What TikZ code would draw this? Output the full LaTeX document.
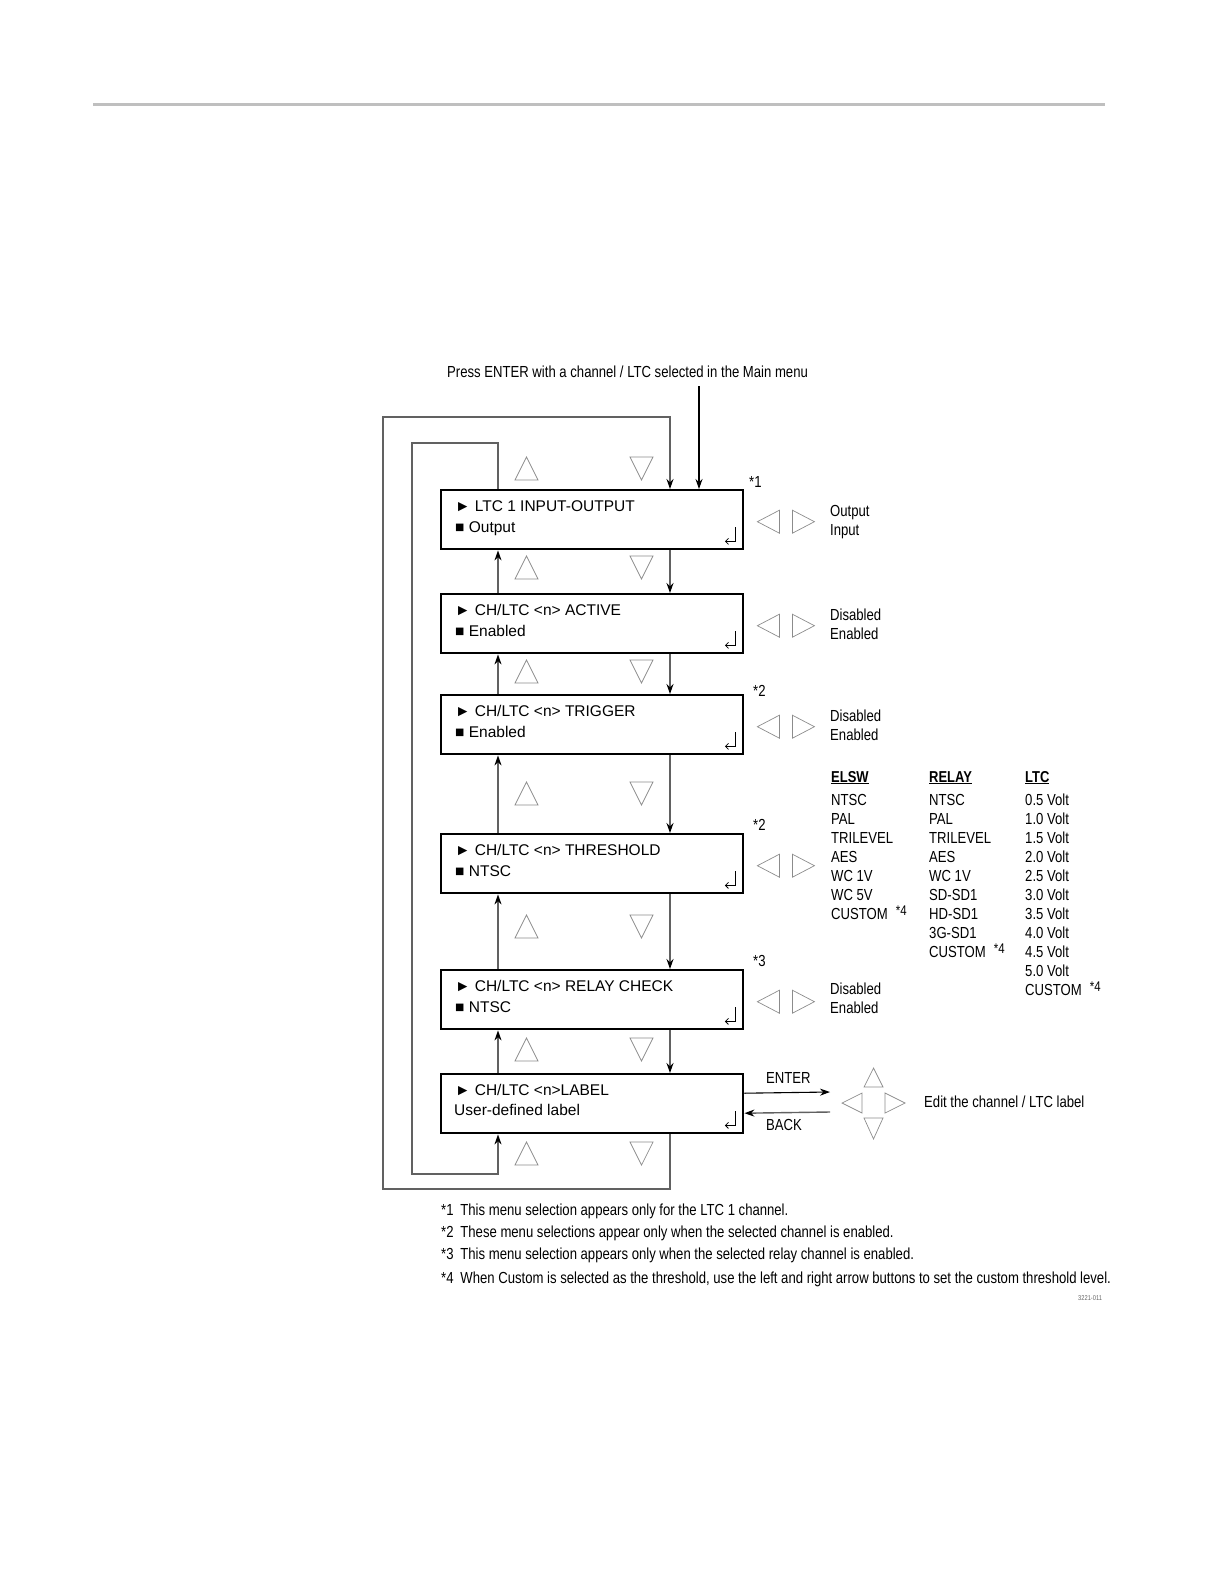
\documentclass[tikz,border=0pt]{standalone}
\usepackage{fontspec}
\setmainfont{Liberation Sans}
\newfontfamily\narrowfont[FakeStretch=0.82]{Liberation Sans}
\usetikzlibrary{arrows.meta,positioning}
\newcommand\starnote[1]{\hspace{8pt}{\fontsize{14}{14}\selectfont\raisebox{4pt}{*#1}}}

\begin{document}
\begin{tikzpicture}[x=1pt,y=-1pt,>={Stealth[length=10pt,width=7pt,color=black]},
  menubox/.style={draw,line width=2.4pt,minimum width=302pt,minimum height=59pt,inner sep=0pt,anchor=north west},
  boxtext/.style={anchor=base west,inner sep=0pt,font=\fontsize{15.5}{18}\selectfont},
  note/.style={anchor=base west,inner sep=0pt,font=\narrowfont\fontsize{16}{19}\selectfont},
  head/.style={note,font=\narrowfont\bfseries\fontsize{15.8}{19}\selectfont},
  conn/.style={draw=black!62,line width=1.4pt},
  tri/.style={draw=black!45,line width=0.7pt}]
\useasboundingbox (0,0) rectangle (1224,1584);
\draw[black!25,line width=3pt] (93,105) -- (1105,105);

% menu boxes
\node[menubox] (b1) at (440,489) {};
\node[menubox] (b2) at (440,593) {};
\node[menubox] (b3) at (440,694) {};
\node[menubox] (b4) at (440,833) {};
\node[menubox] (b5) at (440,969) {};
\node[menubox] (b6) at (440,1073) {};

\node[boxtext] (b1t) at ([xshift=15,yshift=-22]b1.north west) {► LTC 1 INPUT-OUTPUT};
\node[boxtext] (b1v) at ([xshift=15,yshift=-43]b1.north west) {■ Output};
\node[boxtext] (b2t) at ([xshift=15,yshift=-22]b2.north west) {► CH/LTC <n> ACTIVE};
\node[boxtext] (b2v) at ([xshift=15,yshift=-43]b2.north west) {■ Enabled};
\node[boxtext] (b3t) at ([xshift=15,yshift=-22]b3.north west) {► CH/LTC <n> TRIGGER};
\node[boxtext] (b3v) at ([xshift=15,yshift=-43]b3.north west) {■ Enabled};
\node[boxtext] (b4t) at ([xshift=15,yshift=-22]b4.north west) {► CH/LTC <n> THRESHOLD};
\node[boxtext] (b4v) at ([xshift=15,yshift=-43]b4.north west) {■ NTSC};
\node[boxtext] (b5t) at ([xshift=15,yshift=-22]b5.north west) {► CH/LTC <n> RELAY CHECK};
\node[boxtext] (b5v) at ([xshift=15,yshift=-43]b5.north west) {■ NTSC};
\node[boxtext] (b6t) at ([xshift=15,yshift=-22]b6.north west) {► CH/LTC <n>LABEL};
\node[boxtext] (b6v) at ([xshift=14,yshift=-42]b6.north west) {User-defined label};

% enter marks
\foreach \b in {b1,b2,b3,b4,b5,b6}
  \draw[line width=0.8pt,-{Straight Barb[length=3pt,width=6pt]}] ([xshift=-9.5,yshift=23]\b.south east) -- ++(0,14) -- ++(-10,0);

% up / down keys
\foreach \y in {457,556,660,782,915,1038,1142} {
  \draw[tri] (526.5,\y) -- ++(11.5,23) -- ++(-23,0) -- cycle;
  \draw[tri] (630,\y) -- ++(23,0) -- ++(-11.5,23) -- cycle;
}
% left / right keys
\foreach \b in {b1,b2,b3,b4,b5} {
  \draw[tri] ([xshift=13,yshift=-2]\b.east) -- ++(22,-11.5) -- ++(0,23) -- cycle;
  \draw[tri] ([xshift=48,yshift=9.5]\b.east) -- ++(22,11.5) -- ++(-22,11.5) -- cycle;
}

% connectors
\foreach \a/\c in {b1/b2,b2/b3,b3/b4,b4/b5,b5/b6} {
  \draw[conn,->] ([xshift=58]\c.north west) -- ([xshift=58]\a.south west);
  \draw[conn,->] ([xshift=230]\a.south west) -- ([xshift=230]\c.north west);
}
\coordinate (innerTop) at (412,443);
\coordinate (innerBot) at (412,1174);
\coordinate (outerBot) at (383,1189);
\coordinate (outerTop) at (383,417);
\draw[conn,->] ([xshift=58]b1.north west) |- (innerTop) -- (innerBot) -| ([xshift=58]b6.south west);
\draw[conn,->] ([xshift=230]b6.south west) |- (outerBot) -- (outerTop) -| ([xshift=230]b1.north west);

\node[note] (press) at (447,377) {Press ENTER with a channel / LTC selected in the Main menu};
\coordinate (pressEnd) at (699,386);
\draw[->,line width=1.1pt] (pressEnd) -- ([xshift=259]b1.north west);

% side notes
\node[note] (s1) at (749,487) {*1};
\node[note] (s2) at (753,696) {*2};
\node[note] (s3) at (753,830) {*2};
\node[note] (s4) at (753,966) {*3};
\node[note] (o1) at (830,516) {Output};
\node[note] (o2) at (830,535) {Input};
\node[note] (a1) at (830,620) {Disabled};
\node[note] (a2) at (830,639) {Enabled};
\node[note] (t1) at (830,721) {Disabled};
\node[note] (t2) at (830,740) {Enabled};
\node[note] (r1) at (830,994) {Disabled};
\node[note] (r2) at (830,1013) {Enabled};

% threshold lists
\node[head] (elsw) at (831,782) {\underline{ELSW}};
\node[head] (relay) at (929,782) {\underline{RELAY}};
\node[head] (ltc) at (1025,782) {\underline{LTC}};
\foreach \t [count=\i] in {NTSC,PAL,TRILEVEL,AES,WC 1V,WC 5V,CUSTOM\starnote{4}}
  \node[note] (elsw\i) at (831,{786+19*\i}) {\t};
\foreach \t [count=\i] in {NTSC,PAL,TRILEVEL,AES,WC 1V,SD-SD1,HD-SD1,3G-SD1,CUSTOM\starnote{4}}
  \node[note] (relay\i) at (929,{786+19*\i}) {\t};
\foreach \t [count=\i] in {0.5 Volt,1.0 Volt,1.5 Volt,2.0 Volt,2.5 Volt,3.0 Volt,3.5 Volt,4.0 Volt,4.5 Volt,5.0 Volt,CUSTOM\starnote{4}}
  \node[note] (ltc\i) at (1025,{786+19*\i}) {\t};

% label editing
\coordinate (padIn) at (830,1092);
\coordinate (padOut) at (830,1112);
\draw[->,line width=1.1pt] ([yshift=10.5]b6.east) -- (padIn);
\draw[conn,->] (padOut) -- ([yshift=-9.5]b6.east);
\node[note] (enterlbl) at (766,1083) {ENTER};
\node[note] (backlbl) at (766,1130) {BACK};
\draw[tri] (864,1087) -- (873.5,1068) -- (883,1087) -- cycle;
\draw[tri] (842,1103) -- (862,1093) -- (862,1113) -- cycle;
\draw[tri] (885,1093) -- (905,1103) -- (885,1113) -- cycle;
\draw[tri] (864,1118) -- (883,1118) -- (873.5,1139) -- cycle;
\node[note] (edit) at (924,1107) {Edit the channel / LTC label};

% footnotes
\node[note] (fn1) at (441,1215) {*1\hspace{6.8pt}This menu selection appears only for the LTC 1 channel.};
\node[note] (fn2) at (441,1237) {*2\hspace{6.8pt}These menu selections appear only when the selected channel is enabled.};
\node[note] (fn3) at (441,1259) {*3\hspace{6.8pt}This menu selection appears only when the selected relay channel is enabled.};
\node[note] (fn4) at (441,1283) {*4\hspace{6.8pt}When Custom is selected as the threshold, use the left and right arrow buttons to set the custom threshold level.};
\node[note,font=\narrowfont\fontsize{7}{8}\selectfont,text=black!60] (figno) at (1078,1300) {3221-011};
\end{tikzpicture}
\end{document}
